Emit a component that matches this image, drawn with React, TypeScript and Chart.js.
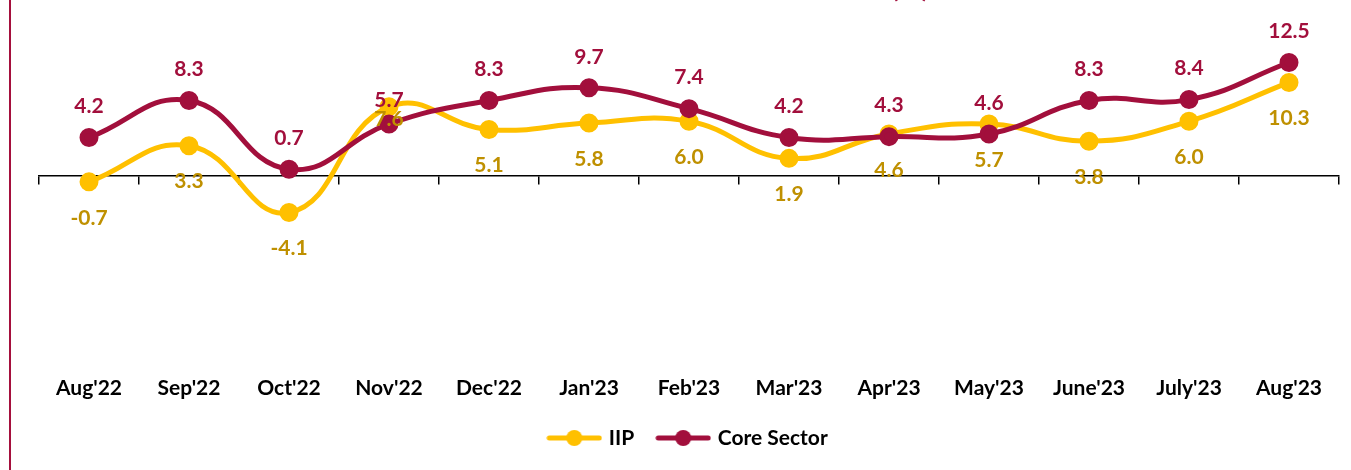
import React, { useEffect, useRef } from 'react';
import { Chart, registerables } from 'chart.js';

Chart.register(...registerables);

const categories = ["Aug'22", "Sep'22", "Oct'22", "Nov'22", "Dec'22", "Jan'23", "Feb'23", "Mar'23", "Apr'23", "May'23", "June'23", "July'23", "Aug'23"];
const iipValues = [-0.7, 3.3, -4.1, 7.6, 5.1, 5.8, 6.0, 1.9, 4.6, 5.7, 3.8, 6.0, 10.3];
const coreValues = [4.2, 8.3, 0.7, 5.7, 8.3, 9.7, 7.4, 4.2, 4.3, 4.6, 8.3, 8.4, 12.5];
const seriesNames = ['IIP', 'Core Sector'];
const titleText = 'Trends in IIP & Core Sector Growth (%)';

const IIP_COLOR = '#FFC000';
const IIP_TEXT = '#BF9000';
const CORE_COLOR = '#A20F3C';
const FONT = 'Lato, "Open Sans", sans-serif';

// label offsets (px) relative to each point, per series
const labelOffsets = [
  { base: 36, special: { 3: 12 } as Record<number, number> },
  { base: -31, special: { 3: -24 } as Record<number, number> },
];
const labelColors = [IIP_TEXT, CORE_COLOR];

function makeIcon(color: string) {
  const c = document.createElement('canvas');
  c.width = 56;
  c.height = 18;
  const g = c.getContext('2d')!;
  g.strokeStyle = color;
  g.lineWidth = 5;
  g.lineCap = 'round';
  g.beginPath();
  g.moveTo(3, 9);
  g.lineTo(53, 9);
  g.stroke();
  g.fillStyle = color;
  g.beginPath();
  g.arc(28, 9, 8, 0, Math.PI * 2);
  g.fill();
  return c;
}

const valueLabelPlugin = {
  id: 'valueLabels',
  afterDatasetsDraw(chart: any) {
    const ctx = chart.ctx;
    ctx.save();
    ctx.font = `bold 21px ${FONT}`;
    ctx.textAlign = 'center';
    ctx.textBaseline = 'middle';
    chart.data.datasets.forEach((ds: any, i: number) => {
      const meta = chart.getDatasetMeta(i);
      const off = labelOffsets[i];
      ctx.fillStyle = labelColors[i];
      meta.data.forEach((pt: any, j: number) => {
        const v = ds.data[j] as number;
        const dy = off.special[j] !== undefined ? off.special[j] : off.base;
        ctx.fillText(v.toFixed(1), pt.x, pt.y + dy);
      });
    });
    ctx.restore();
  },
};

export default function App() {
  const ref = useRef<HTMLCanvasElement>(null);

  useEffect(() => {
    if (!ref.current) return;
    const icons = [makeIcon(IIP_COLOR), makeIcon(CORE_COLOR)];
    const chart = new Chart(ref.current, {
      type: 'line',
      data: {
        labels: categories,
        datasets: [
          {
            label: seriesNames[0],
            data: iipValues,
            borderColor: IIP_COLOR,
            backgroundColor: IIP_COLOR,
            borderWidth: 5,
            pointRadius: 7,
            pointHoverRadius: 7,
            pointBackgroundColor: IIP_COLOR,
            pointBorderColor: IIP_COLOR,
            tension: 0.45,
            order: 1,
            clip: false as any,
          },
          {
            label: seriesNames[1],
            data: coreValues,
            borderColor: CORE_COLOR,
            backgroundColor: CORE_COLOR,
            borderWidth: 5,
            pointRadius: 7,
            pointHoverRadius: 7,
            pointBackgroundColor: CORE_COLOR,
            pointBorderColor: CORE_COLOR,
            tension: 0.45,
            order: 0,
            clip: false as any,
          },
        ],
      },
      options: {
        responsive: false,
        animation: false,
        layout: { padding: { left: 39, right: 12, top: 0, bottom: 11.5 } },
        scales: {
          y: { display: false, min: -21.9, max: 18.93 },
          x: {
            type: 'category',
            position: { y: 0 } as any,
            offset: true,
            grid: {
              display: true,
              drawOnChartArea: false,
              drawTicks: true,
              tickLength: 8,
              offset: true,
              color: '#000',
              lineWidth: 1.5,
            },
            border: { display: true, color: '#000', width: 1.5 },
            ticks: { display: false },
          },
          x2: {
            type: 'category',
            axis: 'x',
            position: 'bottom',
            offset: true,
            grid: { display: false, drawTicks: false },
            border: { display: false },
            ticks: {
              autoSkip: false,
              maxRotation: 0,
              padding: 4,
              color: '#000',
              font: { family: FONT, size: 21, weight: 'bold', lineHeight: 1 },
            },
          } as any,
        },
        plugins: {
          title: {
            display: true,
            text: titleText,
            color: CORE_COLOR,
            font: { family: FONT, size: 28, weight: 'bold' },
            padding: { top: 10.8, bottom: 0 },
          },
          legend: {
            display: true,
            position: 'bottom',
            labels: {
              usePointStyle: true,
              pointStyleWidth: 48,
              padding: 25,
              color: '#000',
              font: { family: FONT, size: 21, weight: 'bold' },
              sort: (a: any, b: any) => a.datasetIndex - b.datasetIndex,
              generateLabels: (ch: any) => {
                const items = Chart.defaults.plugins.legend.labels.generateLabels(ch);
                return items.map((it: any) => ({ ...it, pointStyle: icons[it.datasetIndex] }));
              },
            },
          },
          tooltip: { enabled: false },
        },
      },
      plugins: [valueLabelPlugin],
    });
    return () => chart.destroy();
  }, []);

  return (
    <div style={{ position: 'absolute', left: 0, top: 0, width: 1351, height: 470, overflow: 'hidden', background: '#fff' }}>
      <div style={{ position: 'absolute', left: 9, top: 0, width: 2, height: 470, background: '#A50F3D' }} />
      <div style={{ position: 'absolute', left: 0, top: -40, width: 1351, height: 510 }}>
        <canvas ref={ref} width={1351} height={510} style={{ display: 'block' }} />
      </div>
    </div>
  );
}
